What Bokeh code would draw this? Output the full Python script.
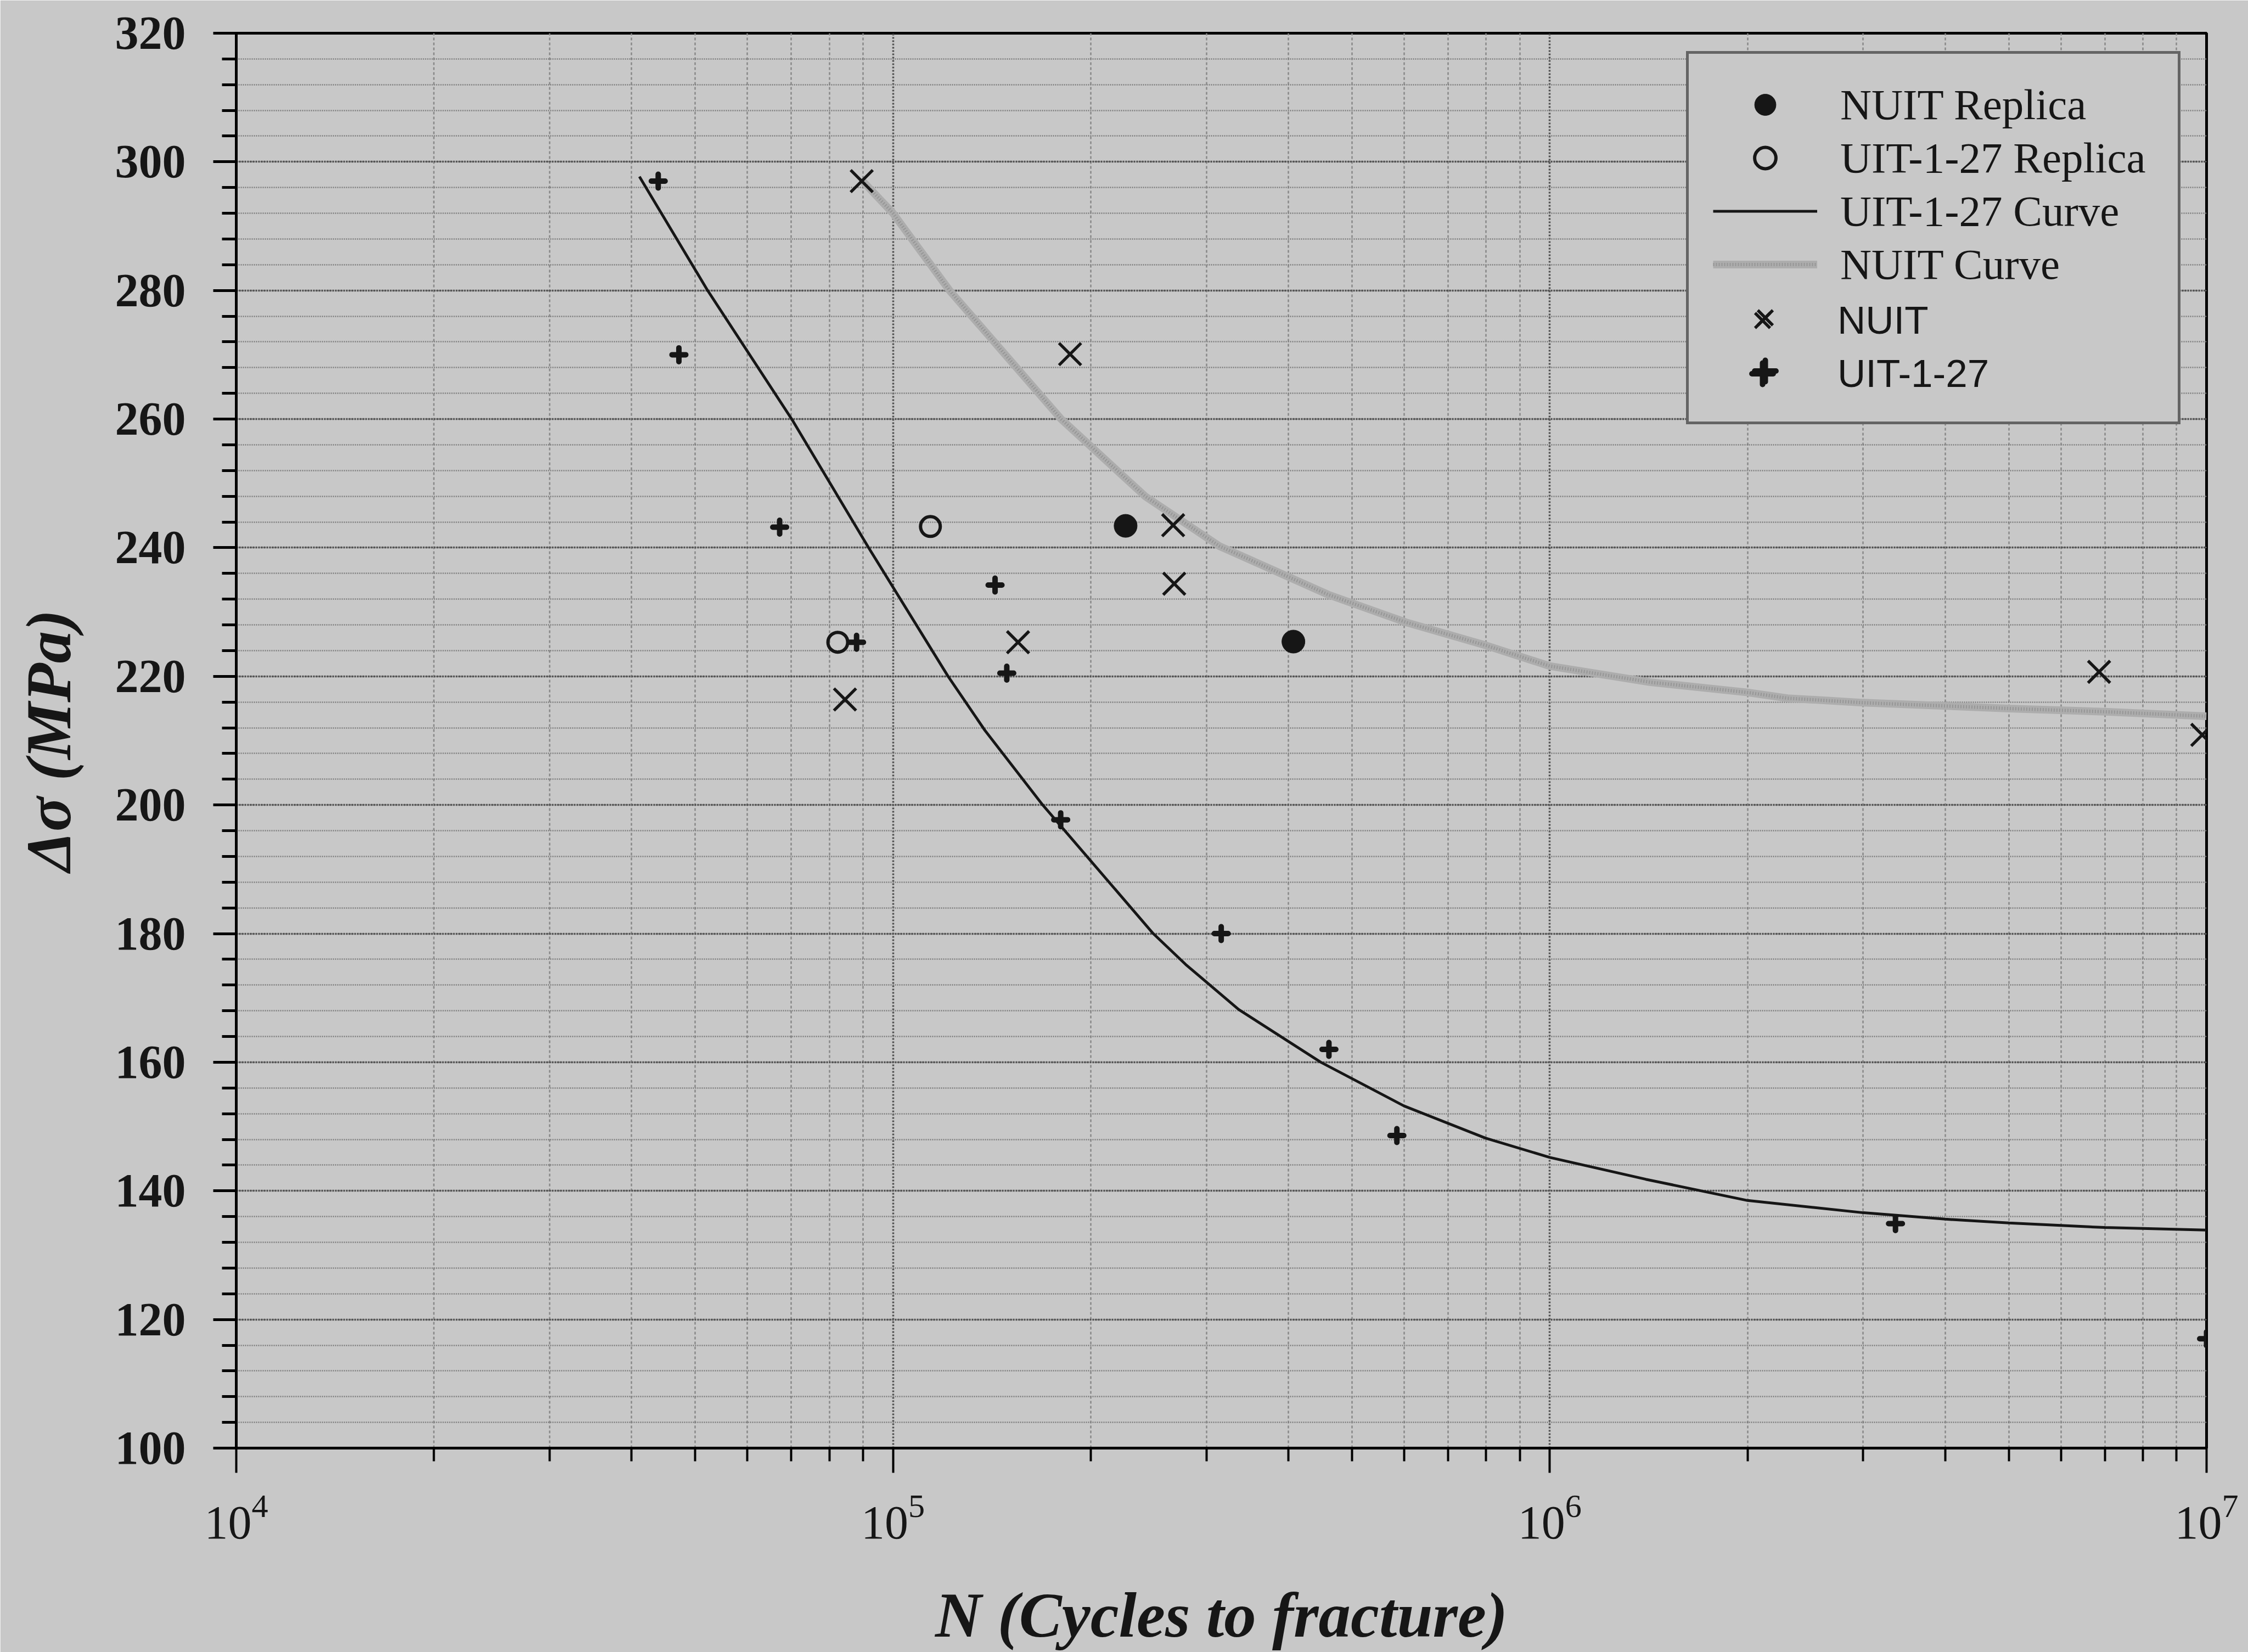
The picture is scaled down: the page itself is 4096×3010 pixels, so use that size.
from bokeh.plotting import figure
from bokeh.models import (Legend, LegendItem, FixedTicker, SingleIntervalTicker,
                          LogTickFormatter)
from bokeh.embed import file_html
from bokeh.resources import INLINE
from bokeh.core.properties import value

# ---------------- data ----------------
uit_N = [4.39e4, 4.72e4, 6.72e4, 8.8e4, 1.43e5, 1.49e5, 1.80e5, 3.16e5, 4.61e5, 5.85e5, 3.36e6, 1.0e7]
uit_S = [297.0, 270.0, 243.2, 225.3, 234.2, 220.5, 197.7, 180.0, 162.0, 148.6, 134.9, 117.0]

nuit_N = [8.96e4, 1.86e5, 2.67e5, 2.68e5, 1.55e5, 8.45e4, 6.86e6, 9.85e6]
nuit_S = [297.0, 270.1, 243.5, 234.4, 225.3, 216.4, 220.7, 210.9]

nuit_rep_N = [2.26e5, 4.07e5]
nuit_rep_S = [243.4, 225.4]

uit_rep_N = [1.14e5, 8.24e4]
uit_rep_S = [243.3, 225.3]

uit_curve_N = [4.11e4, 5.22e4, 7.01e4, 9.18e4, 1.213e5, 1.38e5, 1.69e5, 2.49e5, 2.79e5,
               3.36e5, 4.48e5, 6.0e5, 7.98e5, 1.0e6, 1.4e6, 2.0e6, 3.0e6, 4.0e6, 5.0e6,
               7.0e6, 1.0e7]
uit_curve_S = [297.7, 280.0, 260.0, 240.0, 220.0, 211.6, 200.0, 180.0, 175.2,
               168.2, 160.0, 153.2, 148.2, 145.2, 141.8, 138.5, 136.6, 135.6, 135.0,
               134.3, 133.9]

nuit_curve_N = [8.99e4, 1.0e5, 1.219e5, 1.803e5, 2.42e5, 3.14e5, 4.6e5, 6.04e5, 8.0e5,
                1.0e6, 1.42e6, 2.0e6, 2.3e6, 3.0e6, 5.0e6, 7.0e6, 1.0e7]
nuit_curve_S = [297.0, 292.0, 280.0, 260.0, 248.0, 240.25, 232.7, 228.4, 224.8,
                221.6, 219.1, 217.5, 216.6, 215.9, 215.0, 214.5, 213.8]

x_major_ticks = [1e4, 1e5, 1e6, 1e7]
x_minor_mantissas = [2, 3, 4, 5, 6, 7, 8, 9]

legend_serif_labels = ["NUIT Replica", "UIT-1-27 Replica", "UIT-1-27 Curve", "NUIT Curve"]
legend_sans_labels = ["NUIT", "UIT-1-27"]

# ---------------- styling ----------------
BG = "#c8c8c8"
INK = "#161616"
SERIF = "Liberation Serif"
SANS = "Liberation Sans"

p = figure(width=4096, height=3010, x_axis_type="log",
           x_range=(1e4, 1e7), y_range=(100, 320),
           output_backend="svg", toolbar_location=None,
           min_border_left=430, min_border_right=76,
           min_border_top=60, min_border_bottom=372,
           background_fill_color=BG, border_fill_color=BG,
           outline_line_color="black", outline_line_width=5)

# ticks
yt = SingleIntervalTicker(interval=20, num_minor_ticks=5)
p.yaxis.ticker = yt
p.ygrid.ticker = yt
xminor = [m * d for d in x_major_ticks[:-1] for m in x_minor_mantissas]
xt = FixedTicker(ticks=x_major_ticks, minor_ticks=xminor)
p.xaxis.ticker = xt
p.xgrid.ticker = xt
p.xaxis.formatter = LogTickFormatter()

# axes
for ax in (p.xaxis, p.yaxis):
    ax.axis_line_color = "black"
    ax.axis_line_width = 5
    ax.major_tick_line_color = "black"
    ax.minor_tick_line_color = "black"
    ax.major_tick_in = 0
    ax.minor_tick_in = 0
    ax.major_label_text_color = INK
    ax.axis_label_text_color = INK
    ax.axis_label_text_font = SERIF
    ax.axis_label_text_font_style = "bold italic"
    ax.axis_label_text_font_size = "117px"

p.yaxis.major_tick_out = 42
p.yaxis.minor_tick_out = 26
p.yaxis.major_tick_line_width = 5
p.yaxis.minor_tick_line_width = 5
p.yaxis.major_label_text_font = SERIF
p.yaxis.major_label_text_font_style = "bold"
p.yaxis.major_label_text_font_size = "86px"
p.yaxis.major_label_standoff = 50
p.yaxis.axis_label = "Δσ (MPa)"
p.yaxis.axis_label_standoff = 54

p.xaxis.major_tick_out = 45
p.xaxis.minor_tick_out = 24
p.xaxis.major_tick_line_width = 4
p.xaxis.minor_tick_line_width = 4
p.xaxis.major_label_text_font = SERIF
p.xaxis.major_label_text_font_size = "86px"
p.xaxis.major_label_standoff = 40
p.xaxis.axis_label = "N (Cycles to fracture)"
p.xaxis.axis_label_standoff = 72

# grid
p.ygrid.grid_line_color = "#505050"
p.ygrid.grid_line_width = 3.5
p.ygrid.grid_line_dash = "3 2"
p.ygrid.minor_grid_line_color = "#7a7a7a"
p.ygrid.minor_grid_line_width = 2.5
p.ygrid.minor_grid_line_dash = "2 2"
p.xgrid.grid_line_color = "#505050"
p.xgrid.grid_line_width = 3.5
p.xgrid.grid_line_dash = "3 3"
p.xgrid.minor_grid_line_color = "#888888"
p.xgrid.minor_grid_line_width = 2.5
p.xgrid.minor_grid_line_dash = "5 4"

# curves
r_nc_base = p.line(nuit_curve_N, nuit_curve_S, line_color="#adadad", line_width=14)
r_nc_tex = p.line(nuit_curve_N, nuit_curve_S, line_color="#969696", line_width=6, line_dash="2 3")
r_uc = p.line(uit_curve_N, uit_curve_S, line_color=INK, line_width=5)

# points
r_urep = p.scatter(uit_rep_N, uit_rep_S, marker="circle", size=36, fill_alpha=0,
                   line_color=INK, line_width=6)
r_nrep = p.scatter(nuit_rep_N, nuit_rep_S, marker="circle", size=42, fill_color=INK,
                   line_color=INK, line_width=1)
r_nuit = p.scatter(nuit_N, nuit_S, marker="x", size=57, line_color=INK, line_width=5.5)
r_uit = p.scatter(uit_N, uit_S, marker="cross", size=25, line_color=INK, line_width=10,
                  line_cap="round")

# legend: serif part with the box, sans part overlaid on the last two rows
common = dict(padding=44, spacing=0, glyph_width=190, glyph_height=97, label_height=97,
              label_width=571, label_standoff=42, margin=0, location=(2642, 1865))
legA = Legend(items=[
    LegendItem(label=value(legend_serif_labels[0]), renderers=[r_nrep]),
    LegendItem(label=value(legend_serif_labels[1]), renderers=[r_urep]),
    LegendItem(label=value(legend_serif_labels[2]), renderers=[r_uc]),
    LegendItem(label=value(legend_serif_labels[3]), renderers=[r_nc_base, r_nc_tex]),
    LegendItem(label=value(" "), renderers=[r_nuit]),
    LegendItem(label=value(" "), renderers=[r_uit]),
], label_text_font=SERIF, label_text_font_size="79px", label_text_color=INK,
    border_line_color="black", border_line_width=5,
    background_fill_color=BG, background_fill_alpha=1.0, **common)
legB = Legend(items=[
    LegendItem(label=value(legend_sans_labels[0]), renderers=[r_nuit]),
    LegendItem(label=value(legend_sans_labels[1]), renderers=[r_uit]),
], label_text_font=SANS, label_text_font_size="71px", label_text_color=INK,
    border_line_alpha=0, background_fill_alpha=0, **common)
p.add_layout(legA)
p.add_layout(legB)

open("out.html", "w").write(file_html(p, INLINE))
